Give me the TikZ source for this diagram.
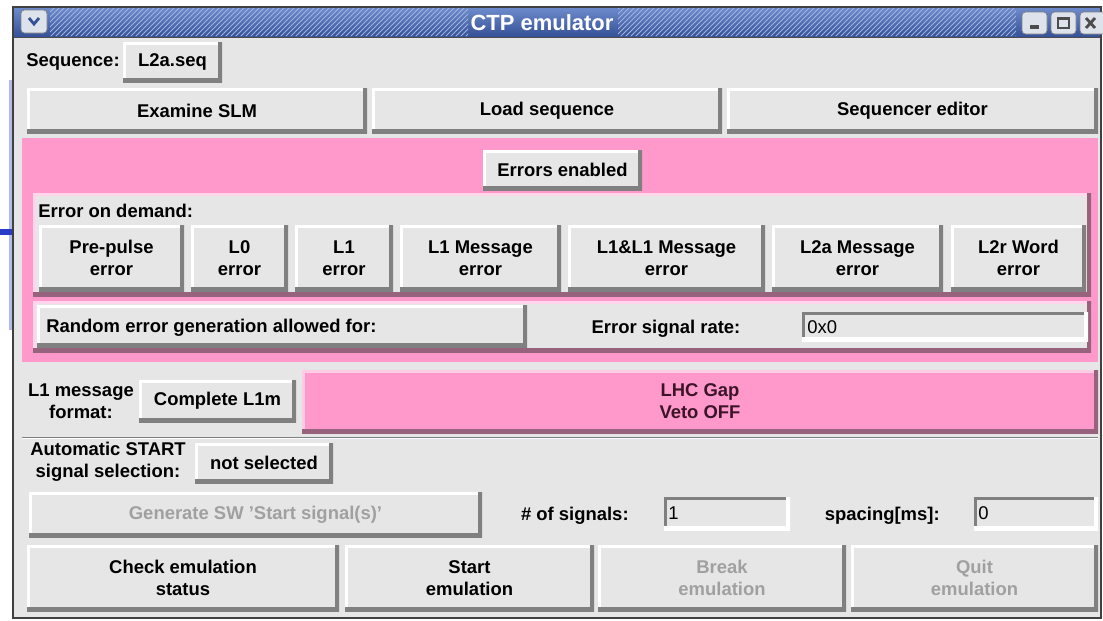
\documentclass[tikz,border=0pt]{standalone}
\usepackage{fontspec}
\setmainfont{Liberation Sans}

\definecolor{winGrey}{RGB}{230,230,230}
\definecolor{edgeGrey}{RGB}{128,128,128}
\definecolor{pinkBg}{RGB}{255,153,204}
\definecolor{mauve}{RGB}{150,98,124}
\definecolor{offText}{RGB}{160,160,160}
\definecolor{titleLight}{RGB}{110,140,205}
\definecolor{titleDark}{RGB}{52,80,150}
\definecolor{slideBlue}{RGB}{40,60,200}
\definecolor{lhcText}{RGB}{60,20,40}
\definecolor{tbtnGrey}{RGB}{222,226,234}

\tikzset{
    gui/.style={font=\bfseries\fontsize{10.5}{12.5}\selectfont},
    spot/.style n args={4}{at={({(#1+#3)/2},{(#2+#4)/2})},
        minimum width={(#3-#1)*0.02cm}, minimum height={(#4-#2)*0.02cm}},
    bevel/.style 2 args={path picture={
        \draw[#1, line width=3pt] (path picture bounding box.south west) -- (path picture bounding box.north west) -- (path picture bounding box.north east);
        \draw[#2, line width=4pt] (path picture bounding box.south west) -- (path picture bounding box.south east) -- (path picture bounding box.north east);
    }},
    raised/.style={fill=winGrey, inner sep=0pt, outer sep=0pt, align=center, bevel={white}{edgeGrey}},
    frame/.style={fill=winGrey, inner sep=0pt, outer sep=0pt, bevel={white!60!pinkBg}{mauve}},
    lhc/.style={fill=pinkBg, inner sep=0pt, outer sep=0pt, align=center, text=lhcText, bevel={white!50!pinkBg}{mauve}},
    sunken/.style={fill=winGrey, inner sep=0pt, outer sep=0pt, bevel={edgeGrey}{white}},
    lbl/.style={inner sep=0pt, align=center},
    off/.style={text=offText},
    entry/.style={inner sep=0pt, anchor=west, font=\fontsize{10.5}{12.5}\selectfont},
    hatch/.style={white!35!titleLight, line width=0.5pt},
    tbtn/.style={fill=tbtnGrey, draw=edgeGrey, rounded corners=2pt},
}

\begin{document}
\begin{tikzpicture}[x=0.02cm, y=-0.02cm, gui]
    \useasboundingbox (0,0) rectangle (1103,620);

    % slide behind the window
    \fill[slideBlue!35] (9,80) rectangle (13,330);
    \draw[slideBlue, line width=3pt] (0,232) -- (12,232);

    % window and title bar
    \fill[winGrey] (13,37) rectangle (1101,618);
    \shade[top color=titleLight, bottom color=titleDark] (13,7) rectangle (1101,37);
    \begin{scope}
        \clip (50,8) rectangle (468,36) (618,8) rectangle (1016,36);
        \foreach \hx in {20,25,...,1020}
            \draw[hatch] (\hx,37) -- ++(30,-30);
    \end{scope}
    \draw[black!70] (13,37) -- (1101,37);
    \draw[black!75, line width=0.8pt] (13,7) rectangle (1101,618);

    \filldraw[tbtn] (21,10) rectangle (47,33);
    \draw[titleDark, line width=1.6pt] (29,18) -- (34,24) -- (39,18);
    \filldraw[tbtn] (1022,12) rectangle (1047,34);
    \draw[black!70, line width=2pt] (1030,27) -- (1039,27);
    \filldraw[tbtn] (1051,12) rectangle (1076,34);
    \draw[black!70, line width=1pt] (1058,18) rectangle (1069,28);
    \draw[black!70, line width=2pt] (1058,18.5) -- (1069,18.5);
    \filldraw[tbtn] (1080,12) rectangle (1106,34);
    \draw[black!70, line width=1.6pt] (1086,18) -- (1095,28) (1086,28) -- (1095,18);

    \node[font=\bfseries\fontsize{12.5}{14}\selectfont, text=white, inner sep=0pt] (title) at (542,23) {CTP emulator};

    % sequence rows
    \node[lbl, anchor=west] (seqlbl) at (26,62) {Sequence:};
    \node[raised, spot={123}{42}{222}{82}] (seqbtn) {L2a.seq};
    \node[raised, spot={27}{88}{367}{133}] (examine) {Examine SLM};
    \node[raised, spot={372}{88}{722}{133}] (loadseq) {Load sequence};
    \node[raised, spot={727}{88}{1098}{133}] (seqedit) {Sequencer editor};

    % error panel
    \fill[pinkBg] (22,138) rectangle (1098,362);
    \node[raised, spot={483}{150}{642}{190}] (errenable) {Errors enabled};
    \node[frame, spot={33}{193}{1091}{296}] (demandbox) {};
    \node[lbl, anchor=west] (demandlbl) at (38,211) {Error on demand:};
    \node[raised, spot={39}{225}{184}{291}] (prepulse) {Pre-pulse\\error};
    \node[raised, spot={191}{225}{288}{291}] (lzero) {L0\\error};
    \node[raised, spot={295}{225}{393}{291}] (lone) {L1\\error};
    \node[raised, spot={400}{225}{561}{291}] (lonemsg) {L1 Message\\error};
    \node[raised, spot={568}{225}{765}{291}] (bothmsg) {L1\&L1 Message\\error};
    \node[raised, spot={772}{225}{943}{291}] (ltwoamsg) {L2a Message\\error};
    \node[raised, spot={951}{225}{1086}{291}] (ltworword) {L2r Word\\error};

    \node[frame, spot={33}{301}{1091}{352}] (randbox) {};
    \node[raised, spot={37}{305}{527}{347}] (randbtn) {};
    \node[lbl, anchor=west] (randlbl) at (46,328) {Random error generation allowed for:};
    \node[lbl] (ratelbl) at (666,329) {Error signal rate:};
    \node[sunken, spot={802}{312}{1088}{341}] (rateentry) {};
    \node[entry] (rateval) at (807,327) {0x0};

    % message format
    \node[lbl] (fmtlbl) at (81,401) {L1 message\\format:};
    \node[raised, spot={139}{380}{296}{422}] (fmtbtn) {Complete L1m};
    \node[lhc, spot={302}{370}{1098}{433}] (gapveto) {LHC Gap\\Veto OFF};
    \draw[edgeGrey] (22,437) -- (1098,437);
    \draw[white] (22,438.5) -- (1098,438.5);

    % start signals
    \node[lbl] (autolbl) at (108,462) {Automatic START\\signal selection:};
    \node[raised, spot={195}{443}{333}{483}] (autobtn) {not selected};
    \node[raised, off, spot={29}{492}{482}{537}] (genbtn) {Generate SW 'Start signal(s)'};
    \node[lbl, anchor=east] (numlbl) at (629,516) {\# of signals:};
    \node[sunken, spot={664}{497}{790}{530}] (numentry) {};
    \node[entry] (numval) at (668,513) {1};
    \node[lbl, anchor=east] (spclbl) at (940,516) {spacing[ms]:};
    \node[sunken, spot={974}{497}{1098}{530}] (spcentry) {};
    \node[entry] (spcval) at (978,513) {0};

    % emulation control
    \node[raised, spot={27}{545}{339}{611}] (checkbtn) {Check emulation\\status};
    \node[raised, spot={345}{545}{594}{611}] (startbtn) {Start\\emulation};
    \node[raised, off, spot={598}{545}{846}{611}] (breakbtn) {Break\\emulation};
    \node[raised, off, spot={851}{545}{1098}{611}] (quitbtn) {Quit\\emulation};
\end{tikzpicture}
\end{document}
